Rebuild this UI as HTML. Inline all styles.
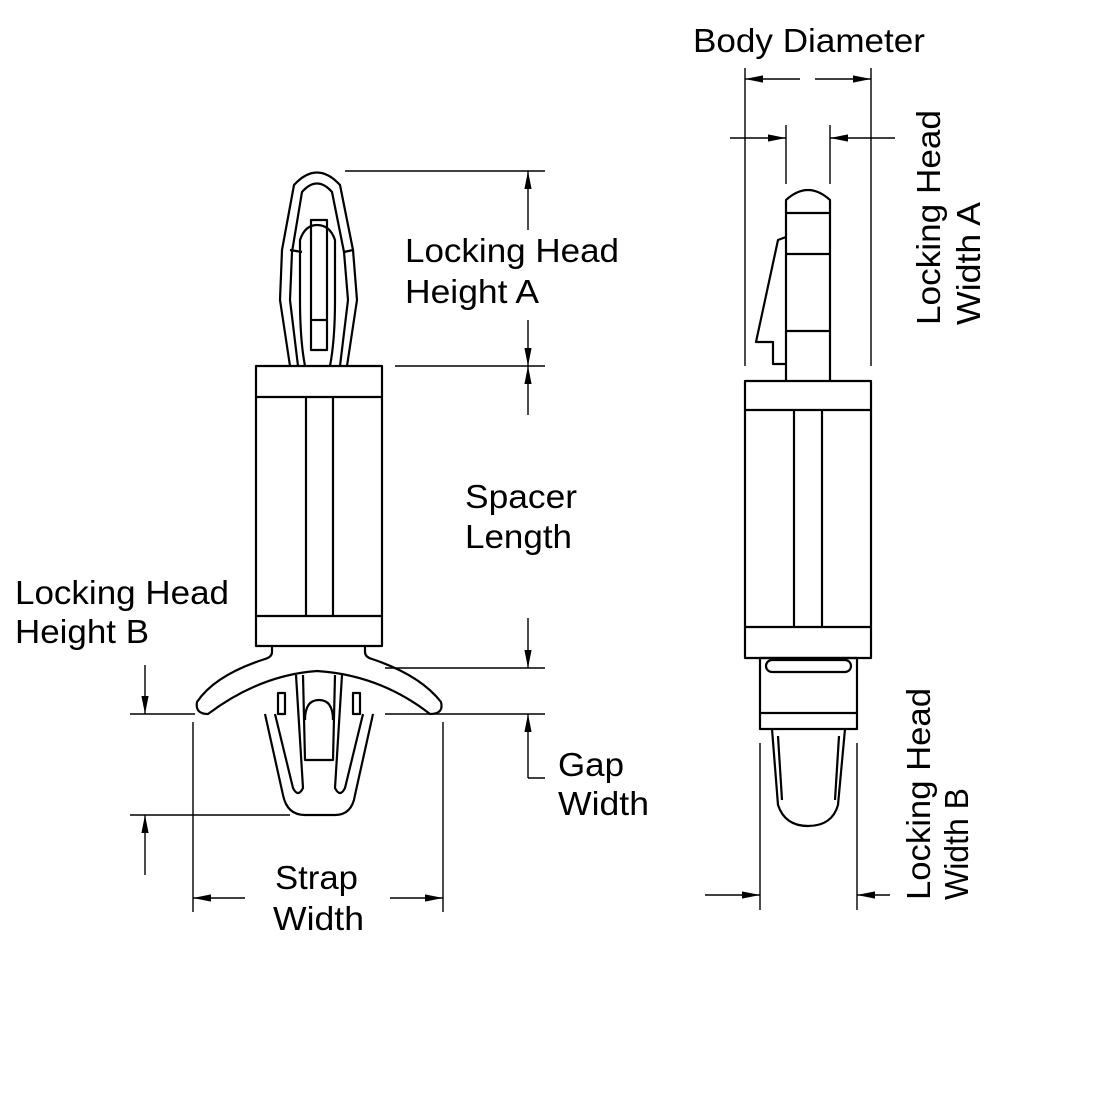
<!DOCTYPE html>
<html><head><meta charset="utf-8"><style>
html,body{margin:0;padding:0;background:#fff;}
svg{display:block;}
text{font-family:"Liberation Sans",sans-serif;font-size:33px;fill:#000;}
</style></head><body>
<svg width="1100" height="1100" viewBox="0 0 1100 1100" xmlns="http://www.w3.org/2000/svg">
<defs>
<marker id="a" viewBox="0 0 10 10" preserveAspectRatio="none" refX="10" refY="5" markerWidth="18" markerHeight="9" markerUnits="userSpaceOnUse" orient="auto"><path d="M0,1 L10,5 L0,9 Z" fill="#000"/></marker>
</defs>
<g fill="none" stroke="#000" stroke-width="2.2" stroke-linejoin="round">
<path d="M290,366 L280,300 L282,250 L294,185 Q317,160 340,185 L353,250 L357,300 L347,366"/>
<path d="M298,366 L290,300 L292,252 L302,192 Q317,175 332,192 L344,252 L348,300 L340,366"/>
<path d="M305,366 Q300,340 300,300 L300,240 Q305,225 317,225 Q330,225 335,240 L335,300 Q335,340 330,366"/>
<rect x="311" y="220" width="16" height="130"/>
<line x1="311" y1="320" x2="327" y2="320"/>
<line x1="290" y1="250" x2="302" y2="252"/><line x1="344" y1="252" x2="353" y2="250"/>
<rect x="256" y="366" width="126" height="280"/>
<line x1="256" y1="397" x2="382" y2="397"/>
<line x1="256" y1="616" x2="382" y2="616"/>
<line x1="306" y1="397" x2="306" y2="616"/>
<line x1="333" y1="397" x2="333" y2="616"/>
<path d="M272,646 L272,652 Q272,657 265,659 Q215,675 197,702 Q195,714 208,714 Q260,675 317,671 Q380,675 430,714 Q444,714 441,702 Q420,675 372,659 Q365,657 365,652 L365,646"/>
<path d="M265,714 L283,795 Q287,815 305,815 L335,815 Q352,815 355,795 L373,714"/>
<path d="M275,714 L293,788 Q298,798 303,788 L296,675"/>
<path d="M363,714 L345,788 Q340,798 335,788 L342,675"/>
<path d="M303,675 L305,760 L333,760 L335,675"/>
<path d="M305,720 Q305,700 319,700 Q333,700 333,720"/>
<rect x="278" y="693" width="7" height="21"/><rect x="353" y="693" width="7" height="21"/>
</g>
<g stroke="#000" stroke-width="1.4" fill="none">
<line x1="345" y1="171" x2="545" y2="171"/>
<line x1="395" y1="366" x2="545" y2="366"/>
<line x1="385" y1="668" x2="545" y2="668"/>
<line x1="385" y1="714" x2="545" y2="714"/>
<line x1="528" y1="230" x2="528" y2="171" marker-end="url(#a)"/>
<line x1="528" y1="320" x2="528" y2="366" marker-end="url(#a)"/>
<line x1="528" y1="415" x2="528" y2="366" marker-end="url(#a)"/>
<line x1="528" y1="618" x2="528" y2="668" marker-end="url(#a)"/>
<line x1="528" y1="778" x2="528" y2="714" marker-end="url(#a)"/>
<line x1="528" y1="778" x2="545" y2="778"/>
<line x1="130" y1="714" x2="195" y2="714"/>
<line x1="130" y1="815" x2="290" y2="815"/>
<line x1="145" y1="665" x2="145" y2="714" marker-end="url(#a)"/>
<line x1="145" y1="875" x2="145" y2="815" marker-end="url(#a)"/>
<line x1="193" y1="722" x2="193" y2="912"/>
<line x1="443" y1="722" x2="443" y2="912"/>
<line x1="245" y1="898" x2="193" y2="898" marker-end="url(#a)"/>
<line x1="390" y1="898" x2="443" y2="898" marker-end="url(#a)"/>
</g>
<g fill="none" stroke="#000" stroke-width="2.2" stroke-linejoin="round">
<path d="M786,381 L786,200 Q808,180 830,200 L830,381"/>
<line x1="786" y1="213" x2="830" y2="213"/>
<line x1="786" y1="254" x2="830" y2="254"/>
<line x1="786" y1="331" x2="830" y2="331"/>
<path d="M786,237 L778,240 L756,342 L773,342 L773,364 L786,364"/>
<rect x="745" y="381" width="126" height="277"/>
<line x1="745" y1="410" x2="871" y2="410"/>
<line x1="745" y1="627" x2="871" y2="627"/>
<line x1="794" y1="410" x2="794" y2="627"/>
<line x1="822" y1="410" x2="822" y2="627"/>
<rect x="760" y="658" width="97" height="71"/>
<rect x="766" y="660" width="85" height="12" rx="6"/>
<line x1="760" y1="713" x2="857" y2="713"/>
<path d="M772,729 L778,805 Q785,826 808,826 Q832,826 838,805 L845,729"/>
<path d="M778,736 L782,800 M839,736 L835,800"/>
</g>
<g stroke="#000" stroke-width="1.4" fill="none">
<line x1="745" y1="68" x2="745" y2="366"/>
<line x1="871" y1="68" x2="871" y2="366"/>
<line x1="800" y1="79" x2="745" y2="79" marker-end="url(#a)"/>
<line x1="815" y1="79" x2="871" y2="79" marker-end="url(#a)"/>
<line x1="786" y1="125" x2="786" y2="184"/>
<line x1="830" y1="125" x2="830" y2="184"/>
<line x1="730" y1="138" x2="786" y2="138" marker-end="url(#a)"/>
<line x1="895" y1="138" x2="830" y2="138" marker-end="url(#a)"/>
<line x1="760" y1="743" x2="760" y2="910"/>
<line x1="857" y1="743" x2="857" y2="910"/>
<line x1="705" y1="895" x2="760" y2="895" marker-end="url(#a)"/>
<line x1="890" y1="895" x2="857" y2="895" marker-end="url(#a)"/>
</g>
<g>
<text x="405" y="262" textLength="214" lengthAdjust="spacingAndGlyphs">Locking Head</text>
<text x="405" y="303" textLength="134" lengthAdjust="spacingAndGlyphs">Height A</text>
<text x="465" y="508" textLength="112" lengthAdjust="spacingAndGlyphs">Spacer</text>
<text x="465" y="548" textLength="107" lengthAdjust="spacingAndGlyphs">Length</text>
<text x="15" y="604" textLength="214" lengthAdjust="spacingAndGlyphs">Locking Head</text>
<text x="15" y="643" textLength="134" lengthAdjust="spacingAndGlyphs">Height B</text>
<text x="558" y="776" textLength="66" lengthAdjust="spacingAndGlyphs">Gap</text>
<text x="558" y="815" textLength="91" lengthAdjust="spacingAndGlyphs">Width</text>
<text x="275" y="889" textLength="83" lengthAdjust="spacingAndGlyphs">Strap</text>
<text x="273" y="930" textLength="91" lengthAdjust="spacingAndGlyphs">Width</text>
<text x="693" y="52" textLength="232" lengthAdjust="spacingAndGlyphs">Body Diameter</text>
<text transform="translate(940,325) rotate(-90)" textLength="215" lengthAdjust="spacingAndGlyphs">Locking Head</text>
<text transform="translate(980,325) rotate(-90)" textLength="123" lengthAdjust="spacingAndGlyphs">Width A</text>
<text transform="translate(930,900) rotate(-90)" textLength="212" lengthAdjust="spacingAndGlyphs">Locking Head</text>
<text transform="translate(968,900) rotate(-90)" textLength="112" lengthAdjust="spacingAndGlyphs">Width B</text>
</g>
</svg>
</body></html>
